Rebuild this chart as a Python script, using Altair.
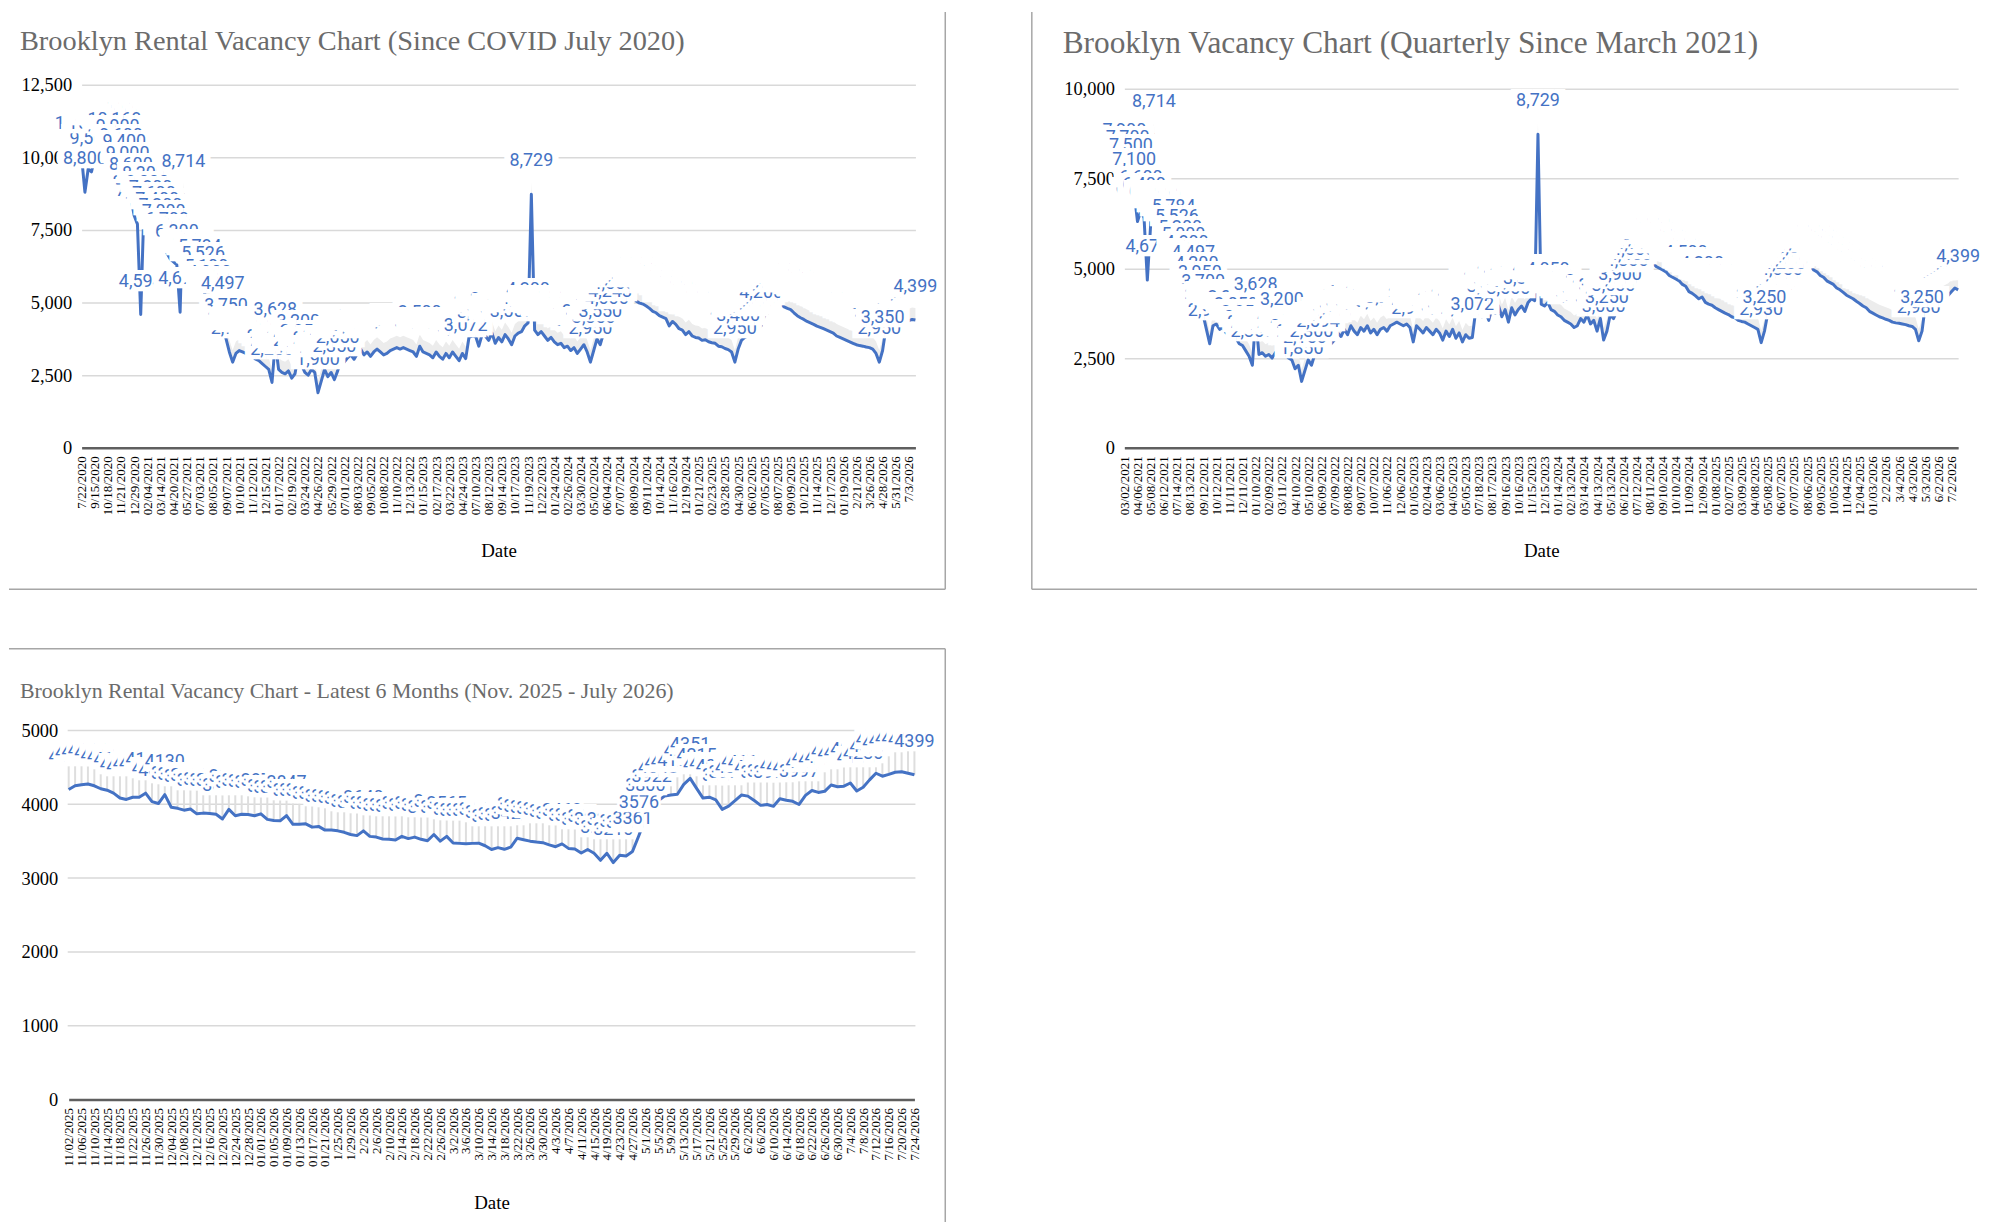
import json
import altair as alt
import pandas as pd

BLUE = "#4472C4"
SERIF = "Liberation Serif"
LABEL_FONT = "Roboto, DejaVu Sans Mono"
GRID = "#d9d9d9"
BORDER = "#a6a6a6"
BLOCK = "\u2588"

# ---------------- data: panel 1 (since July 2020) ----------------
p1_title = "Brooklyn Rental Vacancy Chart (Since COVID July 2020)"
p1_labels = ["7/22/2020", "9/15/2020", "10/18/2020", "11/21/2020", "12/29/2020", "02/04/2021",
             "03/14/2021", "04/20/2021", "05/27/2021", "07/03/2021", "08/05/2021", "09/07/2021",
             "10/10/2021", "11/12/2021", "12/15/2021", "01/17/2022", "02/19/2022", "03/24/2022",
             "04/26/2022", "05/29/2022", "07/01/2022", "08/03/2022", "09/05/2022", "10/08/2022",
             "11/10/2022", "12/13/2022", "01/15/2023", "02/17/2023", "03/22/2023", "04/24/2023",
             "07/10/2023", "08/12/2023", "09/14/2023", "10/17/2023", "11/19/2023", "12/22/2023",
             "01/24/2024", "02/26/2024", "03/30/2024", "05/02/2024", "06/04/2024", "07/07/2024",
             "08/09/2024", "09/11/2024", "10/14/2024", "11/16/2024", "12/19/2024", "01/21/2025",
             "02/23/2025", "03/28/2025", "04/30/2025", "06/02/2025", "07/05/2025", "08/07/2025",
             "09/09/2025", "10/12/2025", "11/14/2025", "12/17/2025", "01/19/2026", "2/21/2026",
             "3/26/2026", "4/28/2026", "5/31/2026", "7/3/2026"]
p1_values = [
    10000, 8800, 9600, 9500, 10000, 10300, 10520, 10500, 10400, 10300, 10168, 9900,
    9600, 9400, 9000, 8600, 8000, 7700, 4594, 8300, 8000, 7800, 7600, 7400,
    7200, 7000, 6700, 6500, 6400, 6300, 4670, 8714, 6000, 5900, 5800, 5600,
    5784, 5526, 5100, 4900, 4700, 4500, 4600, 4497, 3750, 3300, 2950, 3250,
    3350, 3300, 3250, 3200, 3150, 3050, 3000, 2900, 2800, 2700, 2250, 3628,
    2700, 2600, 2550, 2650, 2400, 2550, 3200, 2850, 2600, 2500, 2700, 2600,
    1900, 2300, 2700, 2450, 2594, 2350, 2650, 3000, 2950, 3100, 3200, 3050,
    3250, 3400, 3200, 3300, 3150, 3300, 3400, 3300, 3200, 3250, 3350, 3400,
    3450, 3400, 3450, 3400, 3350, 3300, 3150, 3500, 3300, 3250, 3200, 3100,
    3300, 3150, 3050, 3250, 3100, 3300, 3150, 3000, 3250, 3072, 3800, 3850,
    3850, 3500, 3900, 3850, 3700, 3950, 3600, 3800, 3650, 3900, 3750, 3550,
    3850, 3950, 4000, 4200, 4300, 8729, 4050, 3900, 4000, 3850, 3700, 3800,
    3650, 3550, 3600, 3450, 3500, 3350, 3450, 3250, 3400, 3550, 3300, 2950,
    3350, 3750, 3550, 3950, 4000, 4243, 4500, 4700, 4850, 4950, 5050, 5100,
    5160, 5050, 4980, 4950, 4880, 4800, 4700, 4650, 4550, 4500, 4450, 4200,
    4350, 4250, 4100, 4050, 3900, 4000, 3850, 3800, 3780, 3700, 3720, 3650,
    3620, 3600, 3500, 3480, 3420, 3380, 3300, 2950, 3400, 3700, 3800, 3850,
    3900, 4000, 4100, 4200, 4550, 4650, 4800, 4900, 5000, 4950, 4850, 4800,
    4760, 4650, 4550, 4480, 4420, 4350, 4300, 4250, 4190, 4150, 4100, 4050,
    4000, 3950, 3850, 3800, 3750, 3700, 3650, 3600, 3550, 3520, 3500, 3470,
    3450, 3400, 3250, 2950, 3350, 4100, 4080, 4150, 4200, 4250, 4200, 4300,
    4380, 4420, 4399]

# ---------------- data: panel 2 (since March 2021) ----------------
p2_title = "Brooklyn Vacancy Chart (Quarterly Since March 2021)"
p2_labels = ["03/02/2021", "04/06/2021", "05/08/2021", "06/12/2021", "07/14/2021", "08/13/2021",
             "09/12/2021", "10/12/2021", "11/11/2021", "12/11/2021", "01/10/2022", "02/09/2022",
             "03/11/2022", "04/10/2022", "05/10/2022", "06/09/2022", "07/09/2022", "08/08/2022",
             "09/07/2022", "10/07/2022", "11/06/2022", "12/06/2022", "01/05/2023", "02/04/2023",
             "03/06/2023", "04/05/2023", "05/05/2023", "07/18/2023", "08/17/2023", "09/16/2023",
             "10/16/2023", "11/15/2023", "12/15/2023", "01/14/2024", "02/13/2024", "03/14/2024",
             "04/13/2024", "05/13/2024", "06/12/2024", "07/12/2024", "08/11/2024", "09/10/2024",
             "10/10/2024", "11/09/2024", "12/09/2024", "01/08/2025", "02/07/2025", "03/09/2025",
             "04/08/2025", "05/08/2025", "06/07/2025", "07/07/2025", "08/06/2025", "09/05/2025",
             "10/05/2025", "11/04/2025", "12/04/2025", "01/03/2026", "2/2/2026", "3/4/2026",
             "4/3/2026", "5/3/2026", "6/2/2026", "7/2/2026"]
p2_values = [
    7900, 7700, 7500, 7100, 6300, 6600, 6400, 4670, 6200, 8714, 6100, 6000,
    5900, 5800, 5650, 5784, 5526, 5200, 5000, 4800, 4600, 4497, 4200, 3950,
    3700, 3300, 2900, 3400, 3450, 3300, 3350, 3200, 3250, 3100, 3050, 2900,
    2850, 2700, 2550, 2300, 3628, 2600, 2650, 2550, 2600, 2500, 2650, 2550,
    3200, 2600, 2500, 2450, 2200, 2300, 1850, 2150, 2450, 2300, 2600, 2594,
    2800, 2850, 2950, 2900, 3000, 3200, 3100, 3300, 3150, 3400, 3250, 3150,
    3350, 3250, 3400, 3200, 3300, 3150, 3300, 3350, 3250, 3400, 3450, 3500,
    3450, 3400, 3450, 3350, 2950, 3400, 3300, 3200, 3350, 3250, 3150, 3300,
    3200, 3000, 3250, 3100, 3300, 3050, 3200, 2950, 3150, 3050, 3072, 3800,
    3750, 3650, 3800, 3550, 3900, 3750, 3950, 3650, 3850, 3500, 3900, 3700,
    3850, 3950, 3800, 4050, 4150, 4100, 8729, 4000, 3950, 4050, 3850, 3800,
    3700, 3650, 3550, 3500, 3450, 3350, 3400, 3600, 3500, 3700, 3450, 3550,
    3250, 3600, 3000, 3250, 3700, 3600, 3800, 3900, 4243, 4300, 4450, 4600,
    4750, 4900, 5000, 5150, 5250, 5150, 5050, 5000, 4950, 4900, 4800, 4750,
    4700, 4650, 4550, 4500, 4350, 4300, 4230, 4150, 4200, 4050, 4000, 3970,
    3900, 3850, 3800, 3750, 3710, 3650, 3620, 3550, 3520, 3500, 3450, 3400,
    3350, 3300, 2930, 3250, 3750, 3850, 3900, 3920, 4050, 4200, 4330, 4450,
    4550, 4650, 4800, 4900, 5000, 5060, 4950, 4900, 4800, 4750, 4650, 4600,
    4550, 4450, 4400, 4330, 4250, 4200, 4150, 4080, 4020, 3950, 3900, 3800,
    3750, 3700, 3650, 3620, 3580, 3550, 3500, 3480, 3470, 3450, 3430, 3400,
    3380, 3300, 2980, 3250, 3970, 4000, 4020, 4050, 4100, 4150, 4200, 4250,
    4350, 4450, 4399]

# ---------------- data: panel 3 (Nov 2025 - July 2026) ----------------
p3_title = "Brooklyn Rental Vacancy Chart - Latest 6 Months (Nov. 2025 - July 2026)"
p3_labels = ["11/02/2025", "11/06/2025", "11/10/2025", "11/14/2025", "11/18/2025", "11/22/2025",
             "11/26/2025", "11/30/2025", "12/04/2025", "12/08/2025", "12/12/2025", "12/16/2025",
             "12/20/2025", "12/24/2025", "12/28/2025", "01/01/2026", "01/05/2026", "01/09/2026",
             "01/13/2026", "01/17/2026", "01/21/2026", "1/25/2026", "1/29/2026", "2/2/2026",
             "2/6/2026", "2/10/2026", "2/14/2026", "2/18/2026", "2/22/2026", "2/26/2026",
             "3/2/2026", "3/6/2026", "3/10/2026", "3/14/2026", "3/18/2026", "3/22/2026",
             "3/26/2026", "3/30/2026", "4/3/2026", "4/7/2026", "4/11/2026", "4/15/2026",
             "4/19/2026", "4/23/2026", "4/27/2026", "5/1/2026", "5/5/2026", "5/9/2026",
             "5/13/2026", "5/17/2026", "5/21/2026", "5/25/2026", "5/29/2026", "6/2/2026",
             "6/6/2026", "6/10/2026", "6/14/2026", "6/18/2026", "6/22/2026", "6/26/2026",
             "6/30/2026", "7/4/2026", "7/8/2026", "7/12/2026", "7/16/2026", "7/20/2026",
             "7/24/2026"]
p3_values = [
    4200, 4250, 4265, 4275, 4250, 4210, 4190, 4150, 4085, 4065, 4095, 4095,
    4150, 4035, 4010, 4130, 3960, 3945, 3920, 3935, 3870, 3880, 3875, 3865,
    3800, 3930, 3845, 3865, 3860, 3845, 3870, 3795, 3780, 3775, 3847, 3728,
    3728, 3735, 3690, 3700, 3650, 3650, 3640, 3620, 3590, 3575, 3640, 3565,
    3555, 3530, 3525, 3515, 3565, 3535, 3555, 3525, 3505, 3590, 3500, 3565,
    3475, 3470, 3465, 3470, 3473, 3438, 3387, 3412, 3390, 3420, 3540, 3520,
    3500, 3489, 3480, 3450, 3425, 3463, 3402, 3395, 3340, 3387, 3336, 3240,
    3336, 3210, 3310, 3300, 3361, 3576, 3800, 3922, 4048, 4110, 4125, 4135,
    4270, 4351, 4215, 4084, 4095, 4060, 3931, 3975, 4048, 4125, 4110, 4050,
    3985, 3997, 3972, 4074, 4055, 4040, 3997, 4120, 4186, 4160, 4175, 4260,
    4237, 4245, 4288, 4180, 4230, 4330, 4420, 4380, 4405, 4434, 4440, 4420,
    4399]

p1_yticks = [0, 2500, 5000, 7500, 10000, 12500]
p2_yticks = [0, 2500, 5000, 7500, 10000]
p3_yticks = [0, 1000, 2000, 3000, 4000, 5000]

TOP_STEP = 0.25      # 4 readings per labelled category interval
BOTTOM_STEP = 0.5    # 2 readings per labelled category interval


def series(values, step):
    return pd.DataFrame({"k": [i * step for i in range(len(values))], "v": values})


def data_labels(df, comma):
    # each point gets a white label box followed by its value, drawn in order
    rows = []
    for k, v in zip(df["k"], df["v"]):
        t = f"{v:,}" if comma else str(v)
        rows.append({"k": k, "v": v, "txt": BLOCK * len(t), "col": "#ffffff"})
        rows.append({"k": k, "v": v, "txt": t, "col": BLUE})
    return pd.DataFrame(rows)


def x_enc(labels, xmax, xrange=None):
    sc = dict(domain=[0, xmax], nice=False, zero=False)
    if xrange is not None:
        sc["range"] = xrange
    return alt.X(
        "k:Q", title="Date", scale=alt.Scale(**sc),
        axis=alt.Axis(values=list(range(len(labels))),
                      labelExpr=json.dumps(labels) + "[datum.value]",
                      labelAngle=270, labelFont=SERIF, labelFontSize=13, labelColor="#000000",
                      labelPadding=8, labelOverlap=False, labelFlush=False, ticks=False, grid=False,
                      domainColor="#5f5f5f", domainWidth=2.5, titleFont=SERIF, titleFontSize=19,
                      titleFontWeight="normal", titleColor="#000000", titleY=109,
                      titleBaseline="alphabetic"))


def y_enc(ydom, yvals, fmt, yrange=None, grid=True, offset=0):
    sc = dict(domain=ydom, nice=False, zero=False)
    if yrange is not None:
        sc["range"] = yrange
    ax = dict(values=yvals, format=fmt, labelFont=SERIF, labelFontSize=18.5, labelColor="#000000",
              labelPadding=10, ticks=False, domain=False, grid=grid)
    if grid:
        ax.update(gridColor=GRID, gridWidth=1.5)
    if offset:
        ax["offset"] = offset
    return alt.Y("v:Q", title=None, scale=alt.Scale(**sc), axis=alt.Axis(**ax))


one = pd.DataFrame({"a": [0]})


def vline(x, y0, y1):
    return alt.Chart(one).mark_rule(color=BORDER, strokeWidth=1.5).encode(
        x=alt.value(x), y=alt.value(y0), y2=alt.value(y1))


def hline(y, x0, x1):
    return alt.Chart(one).mark_rule(color=BORDER, strokeWidth=1.5).encode(
        y=alt.value(y), x=alt.value(x0), x2=alt.value(x1))


def heading(text, size, x, y):
    return alt.Chart(one).mark_text(
        align="left", baseline="alphabetic", font=SERIF, fontSize=size, color="#6b6b6b"
    ).encode(x=alt.value(x), y=alt.value(y), text=alt.value(text))


def label_layer(df, comma, X, Y):
    return alt.Chart(data_labels(df, comma)).mark_text(
        font=LABEL_FONT, fontSize=18, align="center", baseline="alphabetic", dy=-28
    ).encode(x=X, y=Y, text="txt:N", color=alt.Color("col:N", scale=None))


# ---------------- panel 1 ----------------
d1 = series(p1_values, TOP_STEP)
X1 = x_enc(p1_labels, 63.5)
Y1 = y_enc([0, 12500], p1_yticks, ",.0f")
p1 = alt.layer(
    alt.Chart(d1).mark_area(color="#ececec", y2Offset=-12).encode(x=X1, y=Y1, y2=alt.Y2("v")),
    alt.Chart(d1).mark_line(color=BLUE, strokeWidth=3, strokeJoin="round").encode(x=X1, y=Y1),
    label_layer(d1, True, X1, Y1),
    vline(868, -73, 507), hline(507, -73, 868),
    heading(p1_title, 28.5, -62, -35),
).properties(width=838, height=365)

# ---------------- panel 2 ----------------
d2 = series(p2_values, TOP_STEP)
X2 = x_enc(p2_labels, 63.5)
Y2 = y_enc([0, 10000], p2_yticks, ",.0f", yrange=[365, 4])
p2 = alt.layer(
    alt.Chart(d2).mark_area(color="#ececec", y2Offset=-12).encode(x=X2, y=Y2, y2=alt.Y2("v")),
    alt.Chart(d2).mark_line(color=BLUE, strokeWidth=3, strokeJoin="round").encode(x=X2, y=Y2),
    label_layer(d2, True, X2, Y2),
    vline(-93, -73, 507), hline(507, -93, 857),
    heading(p2_title, 31.5, -62, -32),
).properties(width=838, height=365)

# ---------------- panel 3 ----------------
d3 = series(p3_values, BOTTOM_STEP)
X3 = x_enc(p3_labels, 66, xrange=[-13, 837])
Y3 = y_enc([0, 5000], p3_yticks, "d", grid=False, offset=14)
grid3 = pd.DataFrame({"v": p3_yticks[1:]})
p3 = alt.layer(
    alt.Chart(grid3).mark_rule(color=GRID, strokeWidth=1.5).encode(
        y=Y3, x=alt.value(-14), x2=alt.value(838)),
    alt.Chart(d3).mark_rule(color="#dedede", strokeWidth=2, y2Offset=-24).encode(
        x=X3, y=Y3, y2=alt.Y2("v")),
    alt.Chart(d3).mark_line(color=BLUE, strokeWidth=3, strokeJoin="round").encode(x=X3, y=Y3),
    label_layer(d3, False, X3, Y3),
    hline(-82, -73, 868), vline(868, -82, 494),
    heading(p3_title, 22, -62, -32.5),
).properties(width=838, height=371)

chart = alt.concat(
    p1, p2, p3, columns=2, bounds="flush",
    spacing={"row": 284, "column": 210},
).properties(padding=0).configure_view(strokeWidth=0)

chart.save("out.html", embed_options={"renderer": "svg", "actions": False})
